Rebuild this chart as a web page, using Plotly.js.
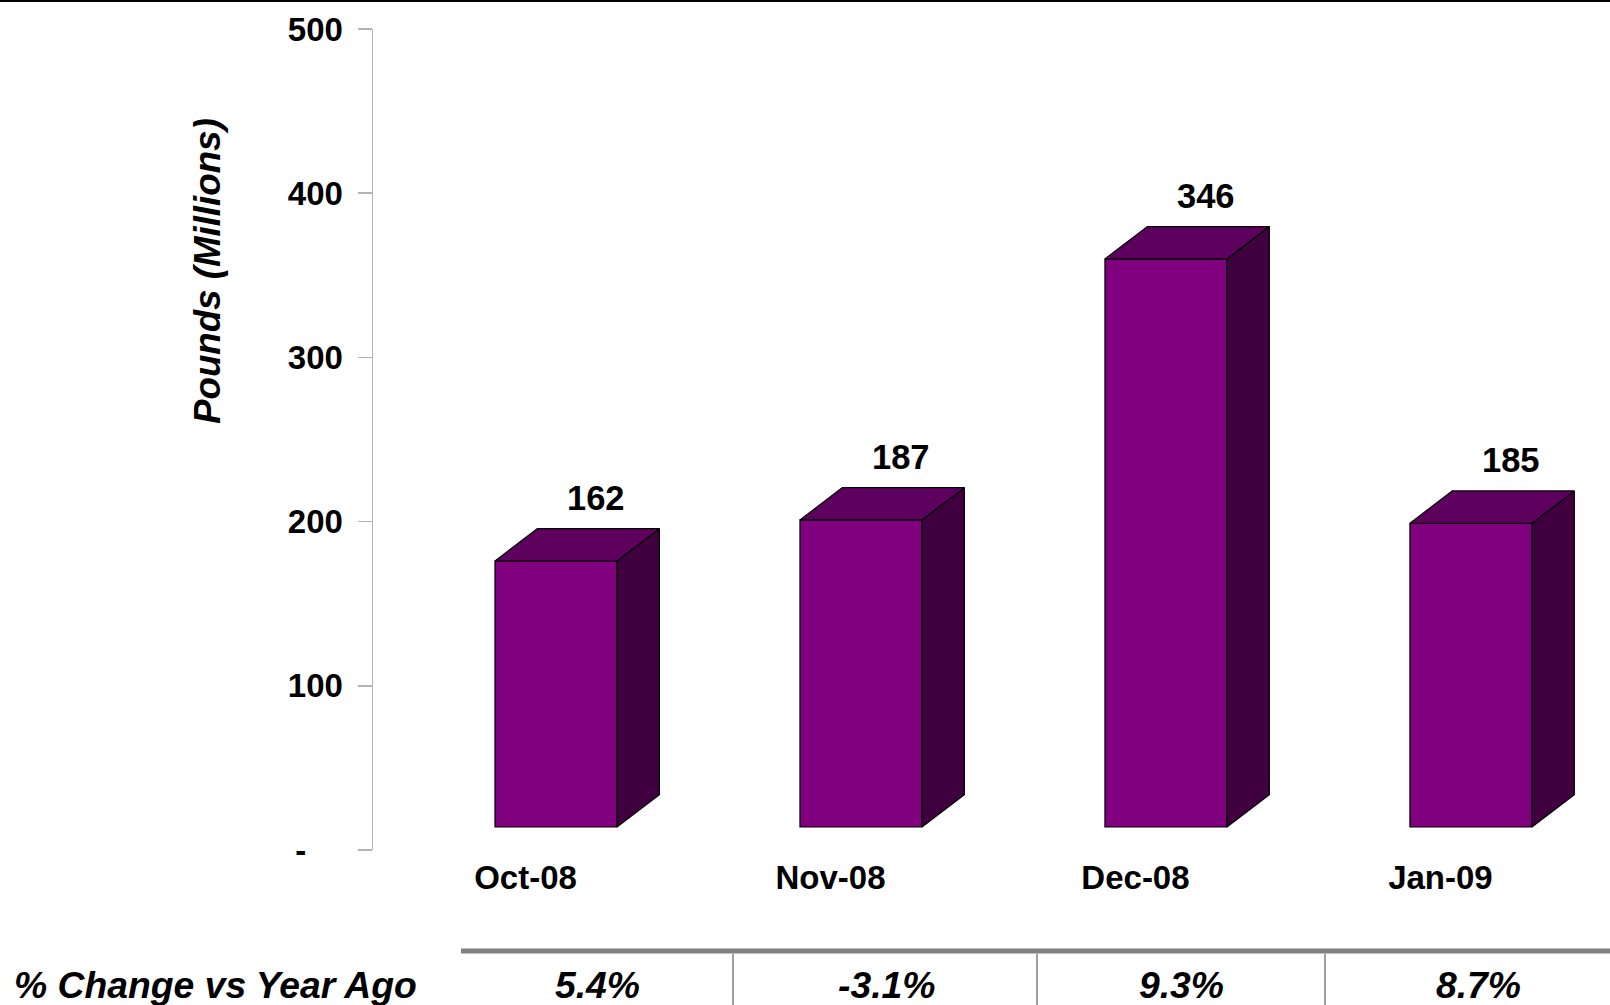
<!DOCTYPE html>
<html>
<head>
<meta charset="utf-8">
<script src="https://cdn.plot.ly/plotly-3.0.1.min.js"></script>
<style>
  body { margin: 0; background: #fff; }
  #plot { width: 1610px; height: 1005px; }
</style>
</head>
<body>
<div id="plot"></div>
<script>
// chart data
let months = ['Oct-08', 'Nov-08', 'Dec-08', 'Jan-09'];
let pounds = [162, 187, 346, 185];
let pctChange = ['5.4%', '-3.1%', '9.3%', '8.7%'];
let yTicks = [0, 100, 200, 300, 400, 500];
let yTickText = ['-\u00a0\u00a0\u00a0\u00a0', '100', '200', '300', '400', '500'];

// look of the fake 3D bars
let FONT = 'Arial, "Liberation Sans", sans-serif';
let floorY = 14;      // bars sit a bit above the axis zero
let shift = 0.1;      // front face is right of the category label
let barW = 0.4;
let dx = 0.139;       // depth offset, x (category units)
let dy = 19.7;        // depth offset, y (axis units)

let xs = months.map((m, i) => i + shift);

// front faces
let front = {
    x: xs,
    y: pounds,
    base: pounds.map(() => floorY),
    width: barW,
    type: 'bar',
    marker: { color: '#800080', line: { color: '#000', width: 1.2 } },
    hoverinfo: 'skip'
};

// top and side faces built from the same values
let topX = [], topY = [], sideX = [], sideY = [];
for (let i = 0; i < pounds.length; i++) {
    let xl = xs[i] - barW / 2, xr = xs[i] + barW / 2;
    let t = floorY + pounds[i];
    topX.push(xl, xr, xr + dx, xl + dx, xl, null);
    topY.push(t, t, t + dy, t + dy, t, null);
    sideX.push(xr, xr, xr + dx, xr + dx, xr, null);
    sideY.push(floorY, t, t + dy, floorY + dy, floorY, null);
}
let topFace = {
    x: topX, y: topY, mode: 'lines', fill: 'toself',
    fillcolor: '#5E005E', line: { color: '#000', width: 1.2 },
    hoverinfo: 'skip'
};
let sideFace = {
    x: sideX, y: sideY, mode: 'lines', fill: 'toself',
    fillcolor: '#400040', line: { color: '#000', width: 1.2 },
    hoverinfo: 'skip'
};

let data = [front, sideFace, topFace];

// paper coords helpers (plot area: x 373..1610, y 29..850 px)
let px = p => (p - 373) / 1237;
let py = p => (850 - p) / 821;

let annotations = [];
// value labels above each bar
pounds.forEach((v, i) => {
    annotations.push({
        x: xs[i] + 0.13, y: floorY + v + dy, xref: 'x', yref: 'y',
        text: String(v), showarrow: false, xanchor: 'center', yanchor: 'middle', yshift: 31,
        font: { family: FONT, size: 34.5, color: '#000', weight: 'bold' }
    });
});
// y axis title
annotations.push({
    x: px(207), y: py(271), xref: 'paper', yref: 'paper',
    xanchor: 'center', yanchor: 'middle',
    text: '<b><i>Pounds (Millions)</i></b>', textangle: -90, showarrow: false,
    font: { family: FONT, size: 36.7, color: '#000' }
});
// table row under the chart
annotations.push({
    x: px(12), y: py(985), xref: 'paper', yref: 'paper',
    xanchor: 'left', yanchor: 'middle',
    text: '<b><i>% Change vs Year Ago</i></b>', showarrow: false,
    font: { family: FONT, size: 37.3, color: '#000' }
});
let colCenters = [597.6, 886, 1181.8, 1478.6];
pctChange.forEach((p, i) => {
    annotations.push({
        x: px(colCenters[i]), y: py(985), xref: 'paper', yref: 'paper',
        xanchor: 'center', yanchor: 'middle',
        text: '<b><i>' + p + '</i></b>', showarrow: false,
        font: { family: FONT, size: 37.3, color: '#000' }
    });
});

let shapes = [
    // thin black rule along the top edge
    { type: 'line', xref: 'paper', yref: 'paper', x0: px(0), x1: 1, y0: py(1), y1: py(1),
      line: { color: '#000', width: 2 } },
    // thick grey table rule
    { type: 'line', xref: 'paper', yref: 'paper', x0: px(461), x1: 1, y0: py(951), y1: py(951),
      line: { color: '#808080', width: 5 } }
];
[733, 1037, 1325].forEach(s => {
    shapes.push({ type: 'line', xref: 'paper', yref: 'paper', x0: px(s), x1: px(s),
        y0: py(954), y1: py(1006), line: { color: '#808080', width: 1.5 } });
});

let layout = {
    width: 1610,
    height: 1005,
    margin: { l: 373, r: 0, t: 29, b: 155 },
    paper_bgcolor: '#fff',
    plot_bgcolor: '#fff',
    showlegend: false,
    xaxis: {
        range: [-0.5, 3.556],
        tickvals: months.map((m, i) => i),
        ticktext: months,
        showline: false, showgrid: false, zeroline: false,
        ticks: '', ticklabelstandoff: 5,
        tickfont: { family: FONT, size: 33, color: '#000', weight: 'bold' }
    },
    yaxis: {
        range: [0, 500],
        tickvals: yTicks,
        ticktext: yTickText,
        showline: true, linecolor: '#B4B4B4', linewidth: 1.5,
        ticks: 'outside', ticklen: 14, tickcolor: '#B4B4B4', tickwidth: 1.5,
        showgrid: false, zeroline: false, ticklabelstandoff: 8,
        tickfont: { family: FONT, size: 33, color: '#000', weight: 'bold' }
    },
    annotations: annotations,
    shapes: shapes
};

Plotly.newPlot('plot', data, layout, { staticPlot: true });
</script>
</body>
</html>
